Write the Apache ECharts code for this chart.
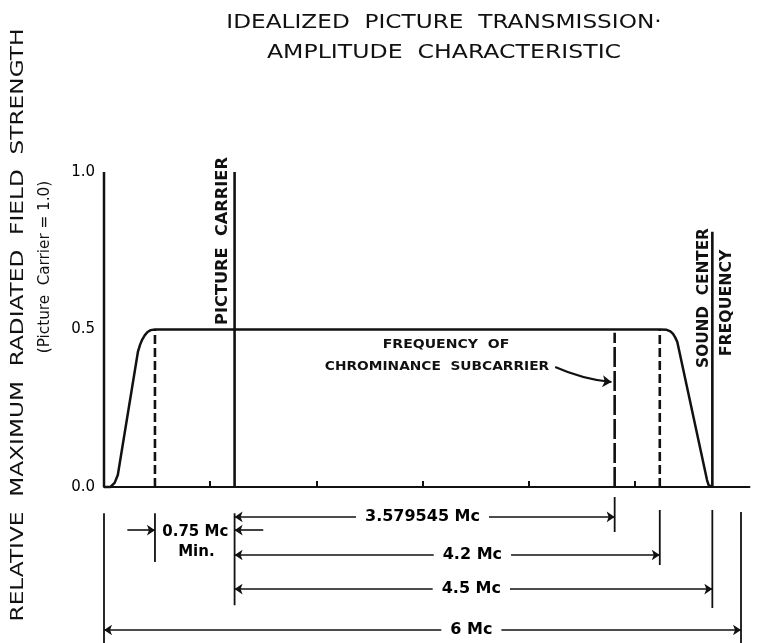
<!DOCTYPE html>
<html>
<head>
<meta charset="utf-8">
<script src="https://cdn.jsdelivr.net/npm/echarts@6/dist/echarts.min.js"></script>
<style>
  html, body { margin: 0; background: #fff; }
  #chart { width: 761px; height: 643px; }
</style>
</head>
<body>
<div id="chart"></div>
<script>
// x is frequency (Mc) from the lower channel edge, placed where the drawing puts it
// (the sketch is schematic, 5.45 sits a bit left of its true spot)
const curveX = [0, 0.06, 0.10, 0.13, 0.32, 0.34, 0.36, 0.385, 0.41, 0.44, 0.48,
  5.24, 5.30, 5.335, 5.36, 5.38, 5.40, 5.68, 5.695, 5.71, 5.73];
const curveY = [0, 0, 0.013, 0.038, 0.43, 0.452, 0.468, 0.482, 0.492, 0.498, 0.5,
  0.5, 0.499, 0.494, 0.486, 0.475, 0.46, 0.022, 0.006, 0, 0];

const xLabelPos = [0, 0.48, 1.23, 2, 4, 5.235, 5.73, 6];
const xLabelText = ["0", "0.5", "1.25", "2", "4", "5.45", "5.75", "6"];
const xTicks = [1, 2, 3, 4, 5];
const yLabels = [0, 0.5, 1];

// vertical markers: picture carrier, chroma subcarrier, band edges, sound carrier
const markerX = [1.23, 4.81, 0.48, 5.235, 5.73];
const markerTop = [1.0, 0.49, 0.5, 0.5, 0.81];
const markerDash = ["solid", [20, 4], [9, 4], [9, 4], "solid"];

// dimension lines under the axis
const dimFrom = [1.23, 1.23, 1.23, 0];
const dimTo = [4.81, 5.235, 5.73, 6];
const dimText = ["3.579545 Mc", "4.2 Mc", "4.5 Mc", "6 Mc"];
const dimLevel = [-0.095, -0.216, -0.324, -0.454];
const dimTextAt = [3.0, 3.47, 3.46, 3.46];

// extension (witness) lines
const extX = [0, 0.48, 1.23, 4.81, 5.235, 5.73, 6];
const extTop = [-0.083, -0.083, -0.083, -0.032, -0.073, -0.073, -0.079];
const extBottom = [-0.5, -0.238, -0.375, -0.143, -0.248, -0.384, -0.5];

const FONT = "DejaVu Sans";
const ink = "#111";

function seg(points, style) {
  return {
    type: "line",
    data: points,
    symbol: "none",
    silent: true,
    animation: false,
    lineStyle: Object.assign({ color: ink, width: 2 }, style),
  };
}

function txt(x, y, text, font, extra) {
  return Object.assign({
    type: "text", x: x, y: y, silent: true,
    style: { text: text, font: font, fill: ink, textAlign: "center", textVerticalAlign: "middle" },
  }, extra);
}

const series = [];
series.push(seg([[0, 0], [0, 1]], { width: 2.5 }));
series.push(seg(curveX.map((x, i) => [x, curveY[i]]), { width: 2.5 }));
markerX.forEach((x, i) => {
  series.push(seg([[x, 0], [x, markerTop[i]]], { width: 2.6, type: markerDash[i] }));
});
extX.forEach((x, i) => {
  series.push(seg([[x, extTop[i]], [x, extBottom[i]]], { width: 1.8 }));
});

// dimension arrows
series.push({
  type: "line",
  data: [],
  silent: true,
  animation: false,
  markLine: {
    silent: true,
    animation: false,
    symbol: ["arrow", "arrow"],
    symbolSize: 8,
    label: { show: false },
    lineStyle: { color: ink, width: 1.6, type: "solid" },
    data: dimFrom.map((f, i) => [
      { coord: [f, dimLevel[i]] },
      { coord: [dimTo[i], dimLevel[i]] },
    ]).concat([
      [{ coord: [0.22, -0.137] }, { coord: [0.48, -0.137] }],
      [{ coord: [1.5, -0.137] }, { coord: [1.23, -0.137] }],
    ].map((pair) => [Object.assign({ symbol: "none" }, pair[0]), pair[1]])),
  },
});

// dimension texts
series.push({
  type: "scatter",
  symbolSize: 0,
  itemStyle: { color: ink },
  silent: true,
  animation: false,
  z: 5,
  label: {
    show: true,
    position: "inside",
    formatter: (p) => p.data[2],
    color: "#000",
    opacity: 1,
    textBorderWidth: 0,
    fontFamily: FONT,
    fontWeight: "bold",
    fontSize: 16,
    backgroundColor: "#fff",
    padding: [1, 9],
  },
  data: dimText.map((t, i) => [dimTextAt[i], dimLevel[i], t]),
});
series.push({
  type: "scatter",
  symbolSize: 0,
  itemStyle: { color: ink },
  silent: true,
  animation: false,
  label: {
    show: true,
    position: "inside",
    formatter: (p) => p.data[2],
    color: "#000",
    opacity: 1,
    textBorderWidth: 0,
    fontFamily: FONT,
    fontWeight: "bold",
    fontSize: 15,
  },
  data: [[0.86, -0.143, "0.75 Mc"], [0.87, -0.206, "Min."]],
});

// pointer to the chroma subcarrier line
series.push({
  type: "lines",
  coordinateSystem: "cartesian2d",
  silent: true,
  animation: false,
  symbol: ["none", "arrow"],
  symbolSize: 9,
  lineStyle: { color: ink, width: 2, curveness: -0.08, opacity: 1 },
  data: [{ coords: [[4.25, 0.381], [4.78, 0.333]] }],
});

const chart = echarts.init(document.getElementById("chart"), null, { renderer: "canvas" });
chart.setOption({
  animation: false,
  backgroundColor: "#fff",
  grid: { left: 104, top: 172, width: 645.5, height: 472.5, containLabel: false, outerBoundsMode: "none" },
  xAxis: {
    type: "value",
    min: 0,
    max: 6.08,
    splitLine: { show: false },
    axisLine: { onZero: true, lineStyle: { color: ink, width: 2 } },
    axisTick: { customValues: xTicks, inside: true, length: 6, lineStyle: { color: ink, width: 2 } },
    axisLabel: {
      customValues: xLabelPos,
      margin: 5,
      color: "#000",
      fontFamily: FONT,
      fontWeight: "bold",
      fontSize: 16,
      formatter: (v) => {
        const i = xLabelPos.findIndex((p) => Math.abs(p - v) < 1e-6);
        return i < 0 ? "" : xLabelText[i];
      },
    },
  },
  yAxis: {
    type: "value",
    min: -0.5,
    max: 1.0,
    splitLine: { show: false },
    axisLine: { show: false },
    axisTick: { show: false },
    axisLabel: {
      customValues: yLabels,
      margin: 9,
      color: "#000",
      fontFamily: FONT,
      fontSize: 15,
      formatter: (v) => v.toFixed(1),
    },
  },
  graphic: [
    txt(444, 23, "IDEALIZED  PICTURE  TRANSMISSION·", "20px " + FONT, { scaleX: 1.16 }),
    txt(444, 53, "AMPLITUDE  CHARACTERISTIC", "20px " + FONT, { scaleX: 1.18 }),
    txt(18, 325, "RELATIVE  MAXIMUM  RADIATED  FIELD  STRENGTH", "18px " + FONT, { rotation: Math.PI / 2, scaleX: 1.29 }),
    txt(45, 267, "(Picture  Carrier = 1.0)", "16px " + FONT, { rotation: Math.PI / 2, scaleX: 0.95 }),
    txt(223, 241, "PICTURE  CARRIER", "bold 15px " + FONT, { rotation: Math.PI / 2, scaleX: 1.08 }),
    txt(704, 298, "SOUND  CENTER", "bold 15px " + FONT, { rotation: Math.PI / 2, scaleX: 1.02 }),
    txt(727, 303, "FREQUENCY", "bold 15px " + FONT, { rotation: Math.PI / 2, scaleX: 1.05 }),
    txt(446, 345, "FREQUENCY  OF", "bold 13px " + FONT, { scaleX: 1.08 }),
    txt(437, 367, "CHROMINANCE  SUBCARRIER", "bold 13px " + FONT, { scaleX: 1.06 }),
  ],
  series: series,
});
</script>
</body>
</html>
